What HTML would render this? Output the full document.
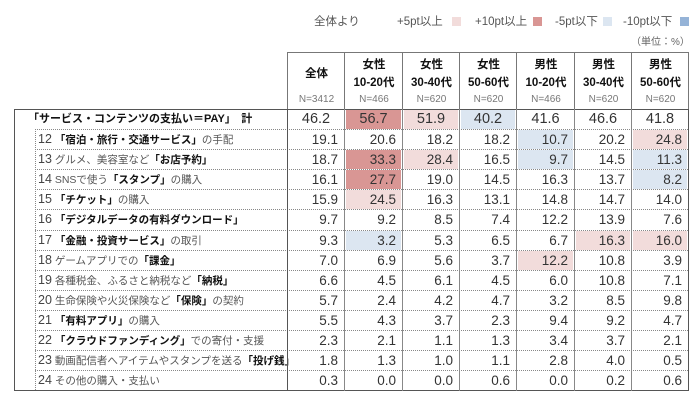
<!DOCTYPE html><html><head><meta charset="utf-8"><style>
body{margin:0;width:700px;height:404px;background:#fff;position:relative;font-family:"Liberation Sans","Noto Sans CJK JP",sans-serif;overflow:hidden}
.a{position:absolute}
.lg{font-size:11.5px;color:#555;top:13px;white-space:nowrap}
.sq{position:absolute;width:9px;height:9px;top:17px}
.hd{position:absolute;top:52px;height:57px;width:57px;text-align:center;font-size:11.5px;font-weight:bold;color:#111;border-left:1px solid #777}
.n{position:absolute;top:42px;left:0;right:0;font-size:10px;font-weight:normal;color:#777;text-align:center}
.c{position:absolute;height:19px;line-height:19px;font-size:13.5px;color:#333;text-align:right;padding-right:5px;box-sizing:border-box}
.lb{position:absolute;left:38px;height:20px;line-height:20px;font-size:10.5px;color:#555;white-space:nowrap}
.lb b{color:#111}
.lb .num{font-size:12.5px;color:#444}
</style></head><body>
<div class="a lg" style="left:314px">全体より</div>
<div class="a lg" style="left:397px">+5pt以上</div><div class="sq" style="left:452px;background:#f2dcdb"></div>
<div class="a lg" style="left:475px">+10pt以上</div><div class="sq" style="left:533px;background:#d99694"></div>
<div class="a lg" style="left:555px">-5pt以下</div><div class="sq" style="left:603px;background:#dce6f1"></div>
<div class="a lg" style="left:623px">-10pt以下</div><div class="sq" style="left:680px;background:#95b3d7"></div>
<div class="a" style="left:631px;top:33px;font-size:10px;color:#666">（単位：%）</div>
<div id="t"></div>
<script>
var X=[287,344,402,459,516,574,631,688];
var H=[["全体","","N=3412"],["女性","10-20代","N=466"],["女性","30-40代","N=620"],["女性","50-60代","N=620"],["男性","10-20代","N=466"],["男性","30-40代","N=620"],["男性","50-60代","N=620"]];
var s="";
H.forEach(function(h,i){s+='<div class="hd" style="left:'+X[i]+'px;width:'+(X[i+1]-X[i])+'px">'+(h[1]?'<div style="position:absolute;top:4px;width:100%">'+h[0]+'</div><div style="position:absolute;top:22px;width:100%">'+h[1]+'</div>':'<div style="position:absolute;top:13px;width:100%">'+h[0]+'</div>')+'<div class="n">'+h[2]+'</div></div>'});
s+='<div class="a" style="left:688px;top:52px;width:1px;height:57px;background:#777"></div>';
s+='<div class="a" style="left:287px;top:52px;width:401px;height:1px;background:#777"></div>';
var rows=[
["「サービス・コンテンツの支払い＝PAY」　計",[46.2,56.7,51.9,40.2,41.6,46.6,41.8],"0 r p b 0 0 0"],
['<span class="num">12</span> <b>「宿泊・旅行・交通サービス」</b>の手配',["19.1","20.6","18.2","18.2","10.7","20.2","24.8"],"0 0 0 0 b 0 p"],
['<span class="num">13</span> グルメ、美容室など<b>「お店予約」</b>',["18.7","33.3","28.4","16.5","9.7","14.5","11.3"],"0 r p 0 b 0 b"],
['<span class="num">14</span> SNSで使う<b>「スタンプ」</b>の購入',["16.1","27.7","19.0","14.5","16.3","13.7","8.2"],"0 r 0 0 0 0 b"],
['<span class="num">15</span> <b>「チケット」</b>の購入',["15.9","24.5","16.3","13.1","14.8","14.7","14.0"],"0 p 0 0 0 0 0"],
['<span class="num">16</span> <b>「デジタルデータの有料ダウンロード」</b>',["9.7","9.2","8.5","7.4","12.2","13.9","7.6"],"0 0 0 0 0 0 0"],
['<span class="num">17</span> <b>「金融・投資サービス」</b>の取引',["9.3","3.2","5.3","6.5","6.7","16.3","16.0"],"0 b 0 0 0 p p"],
['<span class="num">18</span> ゲームアプリでの<b>「課金」</b>',["7.0","6.9","5.6","3.7","12.2","10.8","3.9"],"0 0 0 0 p 0 0"],
['<span class="num">19</span> 各種税金、ふるさと納税など<b>「納税」</b>',["6.6","4.5","6.1","4.5","6.0","10.8","7.1"],""],
['<span class="num">20</span> 生命保険や火災保険など<b>「保険」</b>の契約',["5.7","2.4","4.2","4.7","3.2","8.5","9.8"],""],
['<span class="num">21</span> <b>「有料アプリ」</b>の購入',["5.5","4.3","3.7","2.3","9.4","9.2","4.7"],""],
['<span class="num">22</span> <b>「クラウドファンディング」</b>での寄付・支援',["2.3","2.1","1.1","1.3","3.4","3.7","2.1"],""],
['<span class="num">23</span> 動画配信者へアイテムやスタンプを送る<b>「投げ銭」</b>',["1.8","1.3","1.0","1.1","2.8","4.0","0.5"],""],
['<span class="num">24</span> その他の購入・支払い',["0.3","0.0","0.0","0.6","0.0","0.2","0.6"],""]];
var cm={r:"#d99694",p:"#f2dcdb",b:"#dce6f1"};
rows.forEach(function(r,i){
 var y=i==0?109:129+(i-1)*20.1;
 var cl=r[2].split(" ");
 if(i==0) s+='<div class="a" style="left:28px;top:'+(y)+'px;height:20px;line-height:20px;font-size:11px;font-weight:bold;color:#111;white-space:nowrap">'+r[0]+'</div>';
 else s+='<div class="lb" style="top:'+y+'px">'+r[0]+'</div>';
 r[1].forEach(function(v,j){
  var bg=cm[cl[j]]||"transparent";
  s+='<div class="c" style="left:'+(X[j]+2)+'px;top:'+(y+1)+'px;width:'+(X[j+1]-X[j]-3)+'px;background:'+bg+(i==0?';text-align:center;padding:0;font-size:14.5px':'')+'">'+(i==0?v.toFixed(1):v)+'</div>';
 });
 if(i>0) s+='<div class="a" style="left:35px;top:'+y+'px;width:653px;border-top:1px dotted #888"></div>';
});
s+='<div class="a" style="left:14px;top:109px;width:674px;height:1px;background:#555"></div>';
s+='<div class="a" style="left:14px;top:390px;width:674px;height:1px;background:#555"></div>';
s+='<div class="a" style="left:14px;top:109px;width:1px;height:282px;background:#555"></div>';
s+='<div class="a" style="left:35px;top:129px;height:261px;border-left:1px dotted #888"></div>';
X.forEach(function(x,i){s+='<div class="a" style="left:'+x+'px;top:109px;width:1px;height:282px;background:'+(i==0||i==7?'#555':'#888')+'"></div>'});
document.getElementById("t").innerHTML=s;
</script>
</body></html>
